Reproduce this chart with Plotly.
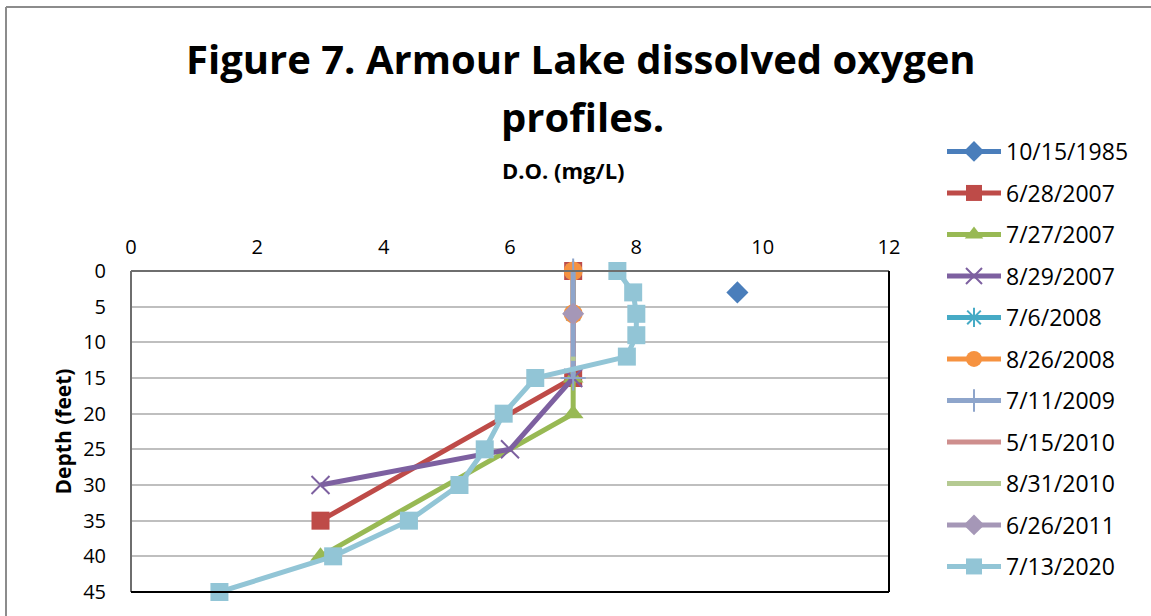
import plotly.graph_objects as go

# ---- data ----
series_names = ["10/15/1985", "6/28/2007", "7/27/2007", "8/29/2007", "7/6/2008",
                "8/26/2008", "7/11/2009", "5/15/2010", "8/31/2010", "6/26/2011", "7/13/2020"]

do_1985 = [9.6]
depth_1985 = [3]
do_062807 = [7, 7, 3]
depth_062807 = [0, 15, 35]
do_072707 = [7, 7, 3]
depth_072707 = [15, 20, 40]
do_082907 = [7, 6, 3]
depth_082907 = [15, 25, 30]
do_070608 = [7, 7]
depth_070608 = [0, 6]
do_082608 = [7, 7]
depth_082608 = [0, 6]
do_071109 = [7, 7]
depth_071109 = [0, 15]
do_051510 = [7]
depth_051510 = [0]
do_083110 = [7, 7]
depth_083110 = [12, 12.6]
do_062611 = [7]
depth_062611 = [6]
do_071320 = [7.7, 7.95, 8.0, 8.0, 7.85, 6.4, 5.9, 5.6, 5.2, 4.4, 3.2, 1.4]
depth_071320 = [0, 3, 6, 9, 12, 15, 20, 25, 30, 35, 40, 45]

x_ticks = [0, 2, 4, 6, 8, 10, 12]
y_ticks = [0, 5, 10, 15, 20, 25, 30, 35, 40, 45]

xs = [do_1985, do_062807, do_072707, do_082907, do_070608, do_082608,
      do_071109, do_051510, do_083110, do_062611, do_071320]
ys = [depth_1985, depth_062807, depth_072707, depth_082907, depth_070608, depth_082608,
      depth_071109, depth_051510, depth_083110, depth_062611, depth_071320]

colors = ["#4A7EBB", "#BE4B48", "#98B954", "#7D60A0", "#46AAC5", "#F69240",
          "#8EA5CB", "#CE8E8D", "#B5CA92", "#A597B7", "#92C5D6"]
symbols = ["diamond", "square", "triangle-up", "x-thin-open", "asterisk-open", "circle",
           "cross-thin-open", None, None, "diamond", "square"]
sizes = [17, 18, 18, 18, 16, 19, 18, 0, 0, 17, 18]

FONT = "Open Sans"

fig = go.Figure()
for i, name in enumerate(series_names):
    sym = symbols[i]
    if sym is None:
        mode = "lines"
        marker = dict()
    else:
        mode = "lines+markers"
        if sym.endswith("open"):
            marker = dict(symbol=sym, size=sizes[i], color=colors[i],
                          line=dict(color=colors[i], width=2))
        else:
            marker = dict(symbol=sym, size=sizes[i], color=colors[i],
                          line=dict(width=0))
    fig.add_trace(go.Scatter(
        x=xs[i], y=ys[i], name=name, mode=mode,
        line=dict(color=colors[i], width=5),
        marker=marker, legendgroup=name, cliponaxis=False,
    ))

W, H = 1151, 616
L, R, T, B = 131, 889, 271, 592


def px(x):
    return (x - L) / (R - L)


def py(y):
    return (B - y) / (B - T)


fig.update_layout(
    width=W, height=H,
    margin=dict(l=L, r=W - R, t=T, b=H - B, autoexpand=False),
    paper_bgcolor="white", plot_bgcolor="white",
    font=dict(family=FONT, color="black"),
    showlegend=True,
    legend=dict(
        x=px(942), xanchor="left",
        y=py(130), yanchor="top",
        font=dict(family=FONT, size=23, color="black"),
        tracegroupgap=8.6, traceorder="grouped", itemwidth=54,
        bgcolor="rgba(0,0,0,0)", maxheight=600,
    ),
    xaxis=dict(
        range=[0, 12], side="top", tickvals=x_ticks, ticks="",
        showgrid=False, zeroline=False, showline=False,
        tickfont=dict(family=FONT, size=20, color="black"),
        ticklabelstandoff=12,
    ),
    yaxis=dict(
        range=[45, 0], tickvals=y_ticks, ticks="",
        showgrid=True, gridcolor="#BFBFBF", gridwidth=2,
        zeroline=False, showline=False,
        tickfont=dict(family=FONT, size=20, color="black"),
        ticklabelstandoff=24,
        title=dict(text="<b>Depth (feet)</b>", font=dict(family=FONT, size=21, color="black"),
                   standoff=5),
    ),
    annotations=[
        dict(text="<b>Figure 7. Armour Lake dissolved oxygen</b>",
             x=px(581), y=py(59), xref="paper", yref="paper",
             xanchor="center", yanchor="middle", showarrow=False,
             font=dict(family=FONT, size=40, color="black")),
        dict(text="<b>profiles.</b>",
             x=px(582), y=py(117), xref="paper", yref="paper",
             xanchor="center", yanchor="middle", showarrow=False,
             font=dict(family=FONT, size=40, color="black")),
        dict(text="<b>D.O. (mg/L)</b>",
             x=px(563), y=py(170), xref="paper", yref="paper",
             xanchor="center", yanchor="middle", showarrow=False,
             font=dict(family=FONT, size=22, color="black")),
    ],
    shapes=[
        # outer chart border (top and left visible)
        dict(type="line", xref="paper", yref="paper",
             x0=px(6), x1=px(W + 5), y0=py(7), y1=py(7),
             line=dict(color="#8C8C8C", width=2), layer="below"),
        dict(type="line", xref="paper", yref="paper",
             x0=px(6), x1=px(6), y0=py(7), y1=py(H + 5),
             line=dict(color="#8C8C8C", width=2), layer="below"),
        # plot frame
        dict(type="line", xref="paper", yref="paper", x0=0, x1=1, y0=1, y1=1,
             line=dict(color="#6E6E6E", width=2), layer="above"),
        dict(type="line", xref="paper", yref="paper", x0=0, x1=0, y0=0, y1=1,
             line=dict(color="#6E6E6E", width=2), layer="above"),
        dict(type="line", xref="paper", yref="paper", x0=1, x1=1, y0=0, y1=1,
             line=dict(color="black", width=2), layer="above"),
        dict(type="line", xref="paper", yref="paper", x0=0, x1=1, y0=0, y1=0,
             line=dict(color="black", width=2), layer="above"),
    ],
)

fig.write_html(
    "out.html",
    config={"displayModeBar": False},
    post_script="document.body.style.margin='0px';document.body.style.overflow='hidden';",
)
